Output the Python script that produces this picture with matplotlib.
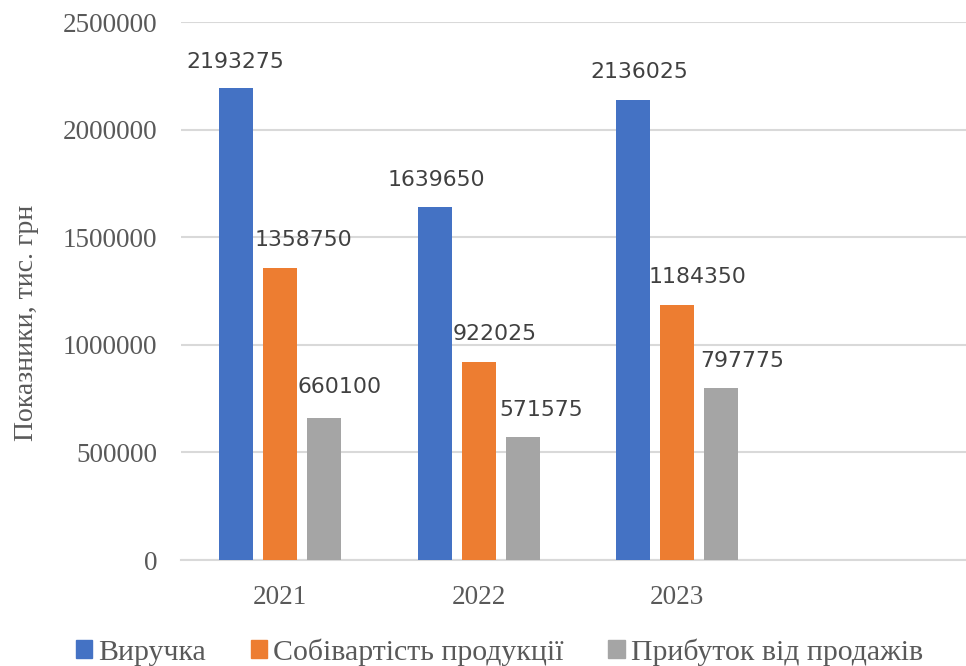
import numpy as np
import matplotlib.pyplot as plt
from matplotlib.patches import Patch
from matplotlib.ticker import FuncFormatter

years = ['2021', '2022', '2023']
revenue = [2193275, 1639650, 2136025]
cost = [1358750, 922025, 1184350]
profit = [660100, 571575, 797775]

series_names = ['Виручка', 'Собівартість продукції', 'Прибуток від продажів']
colors = ['#4472C4', '#ED7D31', '#A5A5A5']

# label nudges in pixels (dx, dy) so the numbers don't sit on the neighbour bars
label_shift = [
    [(-1, 26), (2, 27), (6, 28)],
    [(23, 28), (16, 28), (20, 28)],
    [(15, 31), (18, 27), (21, 27)],
]

serif = 'Liberation Serif'
plt.rcParams['font.family'] = ['DejaVu Sans']

fig = plt.figure(figsize=(9.66, 6.66), dpi=100)
ax = fig.add_axes([181 / 966, 106 / 666, 1 - 181 / 966, 538 / 666])

x = np.arange(len(years))
width = 0.172
step = 0.222
for k, (vals, name, c) in enumerate(zip([revenue, cost, profit], series_names, colors)):
    pos = x + (k - 1) * step
    ax.bar(pos, vals, width, color=c, label=name, zorder=3)
    for i, v in enumerate(vals):
        dx, dy = label_shift[k][i]
        ax.annotate(str(v), (pos[i], v), xytext=(dx, dy), textcoords='offset pixels',
                    ha='center', va='center', fontsize=15.8, color='#404040', zorder=4)

ax.set_xlim(-0.5, 3.455)
ax.set_ylim(0, 2500000)
ax.set_yticks(np.arange(0, 2500001, 500000))
ax.yaxis.set_major_formatter(FuncFormatter(lambda v, p: '%d' % v))
ax.set_xticks(x)
ax.set_xticklabels(years)
ax.grid(axis='y', color='#D9D9D9', linewidth=1.5, zorder=0)
for s in ['top', 'right', 'left']:
    ax.spines[s].set_visible(False)
ax.spines['bottom'].set_color('#D9D9D9')
ax.spines['bottom'].set_linewidth(1.5)
ax.tick_params(length=0, labelcolor='#595959', labelsize=19.5)
ax.tick_params(axis='y', pad=17)
ax.tick_params(axis='x', pad=18)
for t in ax.get_xticklabels() + ax.get_yticklabels():
    t.set_family(serif)

fig.text(27 / 966, 1 - 323 / 666, 'Показники, тис. грн', rotation=90, ha='center', va='center',
         fontsize=20, color='#595959', family=serif)

handles = [Patch(color=c) for c in colors]
fig.legend(handles, series_names, loc='center', bbox_to_anchor=(0.517, 1 - 652 / 666),
           ncol=3, frameon=False, handlelength=0.55, handleheight=0.55, handletextpad=0.2,
           columnspacing=1.5, prop={'family': serif, 'size': 21.5}, labelcolor='#595959')

fig.savefig('out.png', dpi=100)
